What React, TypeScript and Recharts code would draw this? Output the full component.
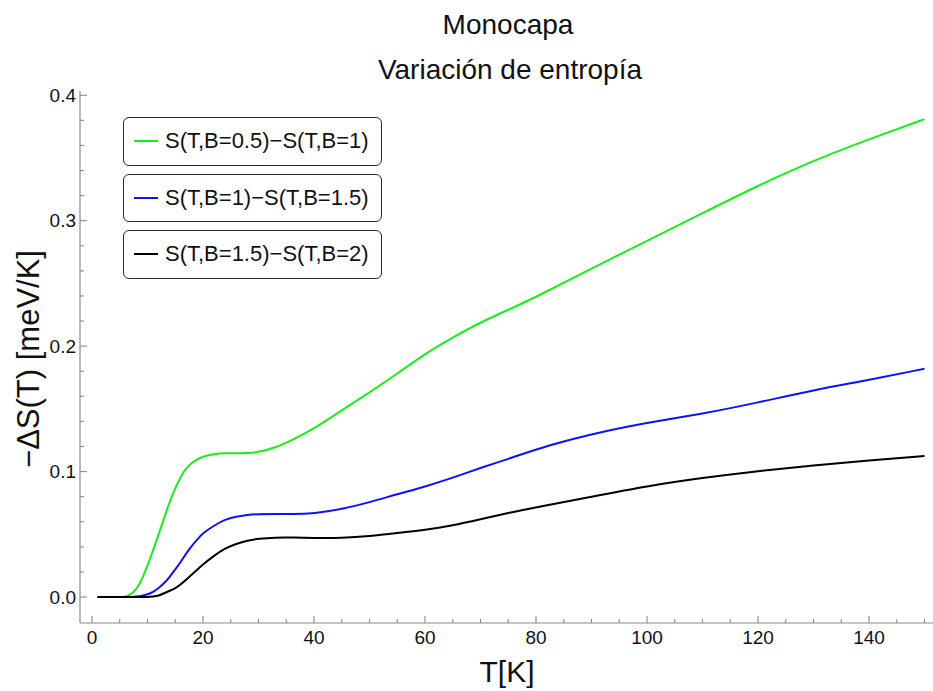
import React from 'react';
import { LineChart, Line, XAxis, YAxis, Legend } from 'recharts';

// Temperature grid [K]
const temperatures = [1, 4, 6, 7, 8, 9, 10, 11, 12, 13, 14, 15, 16, 17, 18, 19, 20, 22, 24, 26, 28, 30, 33, 36, 40, 45, 50, 55, 60, 65, 70, 75, 80, 90, 100, 110, 120, 130, 140, 150];

// -ΔS(T) [meV/K] for each field step
const dS_05_1 = [0, 0, 0, 0.002, 0.006, 0.014, 0.025, 0.037, 0.05, 0.063, 0.076, 0.087, 0.096, 0.103, 0.107, 0.11, 0.112, 0.114, 0.1147, 0.1147, 0.1147, 0.1155, 0.119, 0.125, 0.134, 0.149, 0.163, 0.178, 0.194, 0.207, 0.219, 0.229, 0.239, 0.262, 0.284, 0.306, 0.328, 0.348, 0.365, 0.381];
const dS_1_15 = [0, 0, 0, 0, 0.0003, 0.001, 0.002, 0.004, 0.007, 0.011, 0.016, 0.022, 0.028, 0.035, 0.041, 0.046, 0.051, 0.057, 0.062, 0.064, 0.0657, 0.066, 0.0662, 0.066, 0.0665, 0.07, 0.0755, 0.082, 0.088, 0.095, 0.103, 0.11, 0.118, 0.13, 0.139, 0.146, 0.155, 0.165, 0.173, 0.182];
const dS_15_2 = [0, 0, 0, 0, 0, 0, 0, 0.0005, 0.001, 0.003, 0.005, 0.007, 0.01, 0.014, 0.018, 0.022, 0.026, 0.033, 0.039, 0.0425, 0.045, 0.0465, 0.0475, 0.0475, 0.047, 0.047, 0.0485, 0.051, 0.0535, 0.057, 0.062, 0.067, 0.0715, 0.08, 0.0885, 0.095, 0.1005, 0.105, 0.109, 0.1125];

const seriesNames = ['S(T,B=0.5)−S(T,B=1)', 'S(T,B=1)−S(T,B=1.5)', 'S(T,B=1.5)−S(T,B=2)'];

// Tick positions: every 5 K (labelled every 20 K), every 0.02 (labelled every 0.1)
const xTicks = [0, 5, 10, 15, 20, 25, 30, 35, 40, 45, 50, 55, 60, 65, 70, 75, 80, 85, 90, 95, 100, 105, 110, 115, 120, 125, 130, 135, 140, 145, 150];
const yTicks = [0, 0.02, 0.04, 0.06, 0.08, 0.1, 0.12, 0.14, 0.16, 0.18, 0.2, 0.22, 0.24, 0.26, 0.28, 0.3, 0.32, 0.34, 0.36, 0.38, 0.4];

const xDomain = [-2.16, 152.97];
const yDomain = [-0.0207, 0.4034];

const rows = temperatures.map((t, i) => ({
  T: t,
  a: dS_05_1[i],
  b: dS_1_15[i],
  c: dS_15_2[i],
}));

const FONT = '"Liberation Sans", Arial, Helvetica, sans-serif';
const FRAME = '#8a8a8a';
const TEXT = '#111';

const isMajorX = (v: number) => Math.round(v) % 20 === 0;
const isMajorY = (v: number) => Math.round(v * 100) % 10 === 0;

const BottomTick = (props: any) => {
  const { x, y, payload } = props;
  const v = payload.value;
  const major = isMajorX(v);
  return (
    <g>
      <line x1={x} x2={x} y1={y} y2={y - (major ? 7 : 4)} stroke={FRAME} strokeWidth={1.1} />
      {major && (
        <text x={x} y={y + 21} textAnchor="middle" fontFamily={FONT} fontSize={19} fill={TEXT}>
          {v}
        </text>
      )}
    </g>
  );
};

const TopTick = (props: any) => {
  const { x, y, payload } = props;
  const major = isMajorX(payload.value);
  return <line x1={x} x2={x} y1={y} y2={y + (major ? 7 : 4)} stroke={FRAME} strokeWidth={1.1} />;
};

const LeftTick = (props: any) => {
  const { x, y, payload } = props;
  const v = payload.value;
  const major = isMajorY(v);
  return (
    <g>
      <line x1={x} x2={x + (major ? 7 : 4)} y1={y} y2={y} stroke={FRAME} strokeWidth={1.1} />
      {major && (
        <text x={x - 4} y={y} dy="0.35em" textAnchor="end" fontFamily={FONT} fontSize={19} fill={TEXT}>
          {v.toFixed(1)}
        </text>
      )}
    </g>
  );
};

const renderLegend = (props: any) => (
  <div>
    {(props.payload || []).map((entry: any) => (
      <div
        key={entry.value}
        style={{
          boxSizing: 'border-box',
          width: 259,
          height: 48.5,
          border: '1.6px solid #2a2a2a',
          borderRadius: 6,
          marginBottom: 8,
          display: 'flex',
          alignItems: 'center',
          paddingLeft: 10,
          fontFamily: FONT,
          fontSize: 22,
          color: TEXT,
          background: '#fff',
          whiteSpace: 'nowrap',
        }}
      >
        <span style={{ display: 'inline-block', width: 24, height: 2, background: entry.color, marginRight: 7 }} />
        <span>{entry.value}</span>
      </div>
    ))}
  </div>
);

export default function App() {
  return (
    <div style={{ position: 'absolute', left: 0, top: 0, width: 933, height: 691, overflow: 'hidden', background: '#fff' }}>
      <LineChart width={945} height={691} data={rows} margin={{ top: 91, right: 4, bottom: 0, left: 0 }}>
        <XAxis
          xAxisId="x"
          dataKey="T"
          type="number"
          domain={xDomain}
          allowDataOverflow
          ticks={xTicks}
          interval={0}
          height={68}
          tickSize={0}
          tickMargin={0}
          tickLine={false}
          tick={<BottomTick />}
          axisLine={{ stroke: FRAME, strokeWidth: 1.2 }}
        />
        <XAxis
          xAxisId="top"
          orientation="top"
          dataKey="T"
          type="number"
          domain={xDomain}
          allowDataOverflow
          ticks={xTicks}
          interval={0}
          height={0}
          tickSize={0}
          tickMargin={0}
          tickLine={false}
          tick={<TopTick />}
          axisLine={{ stroke: FRAME, strokeWidth: 1.2 }}
        />
        <YAxis
          yAxisId="y"
          type="number"
          domain={yDomain}
          allowDataOverflow
          ticks={yTicks}
          interval={0}
          width={80}
          tickSize={0}
          tickMargin={0}
          tickLine={false}
          tick={<LeftTick />}
          axisLine={{ stroke: FRAME, strokeWidth: 1.2 }}
        />
        <Legend
          layout="vertical"
          align="center"
          verticalAlign="middle"
          content={renderLegend}
          wrapperStyle={{ position: 'absolute', left: 123, top: 117, width: 260, height: 'auto' }}
        />
        <Line xAxisId="x" yAxisId="y" dataKey="a" name={seriesNames[0]} type="basis" stroke="#1aee1a" strokeWidth={2} dot={false} isAnimationActive={false} />
        <Line xAxisId="x" yAxisId="y" dataKey="b" name={seriesNames[1]} type="basis" stroke="#1010f0" strokeWidth={2} dot={false} isAnimationActive={false} />
        <Line xAxisId="x" yAxisId="y" dataKey="c" name={seriesNames[2]} type="basis" stroke="#000" strokeWidth={2} dot={false} isAnimationActive={false} />
      </LineChart>
      <svg width={933} height={691} style={{ position: 'absolute', left: 0, top: 0, pointerEvents: 'none' }}>
        <text x={508} y={34} textAnchor="middle" fontFamily={FONT} fontSize={28} fill={TEXT}>Monocapa</text>
        <text x={510} y={79} textAnchor="middle" fontFamily={FONT} fontSize={28} fill={TEXT}>Variación de entropía</text>
        <text x={507} y={682} textAnchor="middle" fontFamily={FONT} fontSize={30} fill={TEXT}>T[K]</text>
        <text transform="translate(39,359) rotate(-90)" textAnchor="middle" fontFamily={FONT} fontSize={31} fill={TEXT}>−ΔS(T) [meV/K]</text>
      </svg>
    </div>
  );
}
